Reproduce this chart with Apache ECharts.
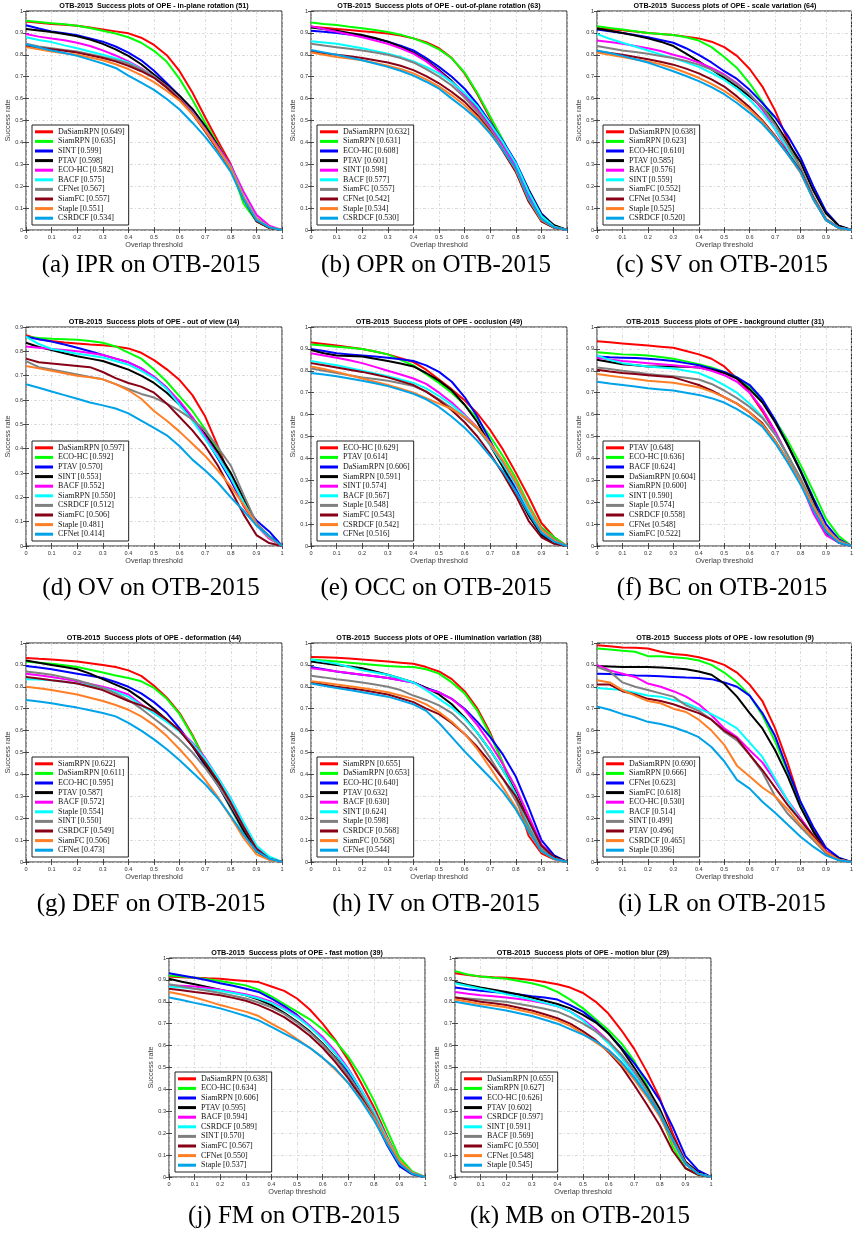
<!DOCTYPE html>
<html><head><meta charset="utf-8">
<script src="https://cdn.jsdelivr.net/npm/echarts@6.0.0/dist/echarts.min.js"></script>
<style>html,body{margin:0;padding:0;background:#fff}#c{width:856px;height:1235px}</style>
</head><body><div id="c"></div><script>
// ---------- DATA ----------
const THRESHOLDS = [0,0.05,0.1,0.15,0.2,0.25,0.3,0.35,0.4,0.45,0.5,0.55,0.6,0.65,0.7,0.75,0.8,0.85,0.9,0.95,1];

// (a) IPR
const IPR_TRACKERS = ['DaSiamRPN','SiamRPN','SINT','PTAV','ECO-HC','BACF','CFNet','SiamFC','Staple','CSRDCF'];
const IPR_SCORES = [0.649,0.635,0.599,0.598,0.582,0.575,0.567,0.557,0.551,0.534];
const IPR_RATES = [
 [.952,.946,.941,.937,.933,.925,.916,.907,.898,.878,.845,.798,.725,.628,.515,.405,.300,.150,.055,.013,0],
 [.956,.950,.944,.939,.933,.922,.910,.897,.880,.855,.818,.768,.690,.595,.490,.390,.285,.120,.040,.010,0],
 [.935,.920,.907,.898,.889,.875,.860,.838,.810,.775,.727,.670,.612,.550,.470,.380,.285,.150,.050,.012,0],
 [.918,.911,.904,.895,.885,.870,.850,.825,.795,.757,.710,.662,.612,.553,.475,.385,.290,.150,.042,.010,0],
 [.895,.883,.874,.866,.855,.840,.820,.797,.770,.738,.700,.655,.600,.540,.462,.380,.295,.175,.070,.020,0],
 [.880,.868,.858,.843,.830,.815,.800,.784,.765,.735,.700,.650,.595,.535,.457,.370,.287,.155,.052,.013,0],
 [.850,.838,.830,.822,.815,.803,.790,.776,.760,.733,.700,.655,.600,.535,.455,.370,.283,.150,.045,.012,0],
 [.840,.832,.825,.818,.810,.798,.785,.770,.750,.725,.695,.650,.595,.530,.450,.365,.275,.140,.040,.010,0],
 [.835,.825,.815,.807,.800,.788,.775,.757,.735,.707,.675,.635,.590,.530,.455,.370,.280,.150,.050,.013,0],
 [.848,.833,.820,.808,.795,.778,.760,.740,.705,.673,.640,.598,.550,.490,.425,.350,.265,.140,.045,.012,0]
];
// (b) OPR
const OPR_TRACKERS = ['DaSiamRPN','SiamRPN','ECO-HC','PTAV','SINT','BACF','SiamFC','CFNet','Staple','CSRDCF'];
const OPR_SCORES = [0.632,0.631,0.608,0.601,0.598,0.577,0.557,0.542,0.534,0.530];
const OPR_RATES = [
 [.928,.923,.918,.913,.908,.903,.897,.888,.875,.858,.830,.785,.715,.620,.510,.400,.290,.155,.050,.012,0],
 [.947,.941,.936,.928,.921,.913,.904,.892,.875,.853,.825,.784,.719,.625,.518,.410,.295,.160,.055,.012,0],
 [.910,.905,.900,.893,.885,.874,.860,.842,.820,.785,.745,.700,.645,.575,.490,.405,.310,.185,.075,.020,0],
 [.925,.918,.910,.900,.890,.877,.860,.837,.810,.775,.730,.680,.620,.555,.475,.390,.300,.180,.070,.022,0],
 [.930,.918,.905,.893,.880,.865,.850,.830,.805,.770,.725,.675,.615,.550,.470,.385,.290,.160,.050,.013,0],
 [.862,.856,.850,.840,.830,.818,.805,.790,.770,.745,.715,.675,.625,.565,.485,.400,.305,.175,.065,.015,0],
 [.850,.842,.835,.828,.820,.810,.800,.785,.765,.735,.700,.660,.605,.540,.460,.370,.270,.140,.040,.010,0],
 [.815,.807,.800,.793,.785,.775,.765,.750,.730,.703,.670,.630,.585,.525,.450,.360,.265,.130,.040,.010,0],
 [.810,.800,.790,.783,.775,.763,.750,.735,.715,.688,.655,.615,.570,.515,.445,.365,.275,.140,.045,.012,0],
 [.822,.811,.800,.788,.775,.760,.745,.727,.705,.677,.645,.600,.555,.505,.440,.365,.280,.145,.050,.012,0]
];
// (c) SV
const SV_TRACKERS = ['DaSiamRPN','SiamRPN','ECO-HC','PTAV','BACF','SINT','SiamFC','CFNet','Staple','CSRDCF'];
const SV_SCORES = [0.638,0.623,0.610,0.585,0.576,0.559,0.552,0.534,0.525,0.520];
const SV_RATES = [
 [.922,.917,.912,.906,.900,.895,.890,.883,.875,.860,.835,.795,.735,.655,.545,.410,.280,.140,.045,.010,0],
 [.930,.922,.915,.908,.900,.895,.890,.880,.865,.835,.790,.740,.670,.585,.490,.390,.280,.150,.050,.012,0],
 [.915,.908,.900,.890,.880,.868,.855,.830,.800,.765,.725,.690,.640,.580,.515,.430,.330,.200,.085,.020,0],
 [.920,.910,.900,.888,.875,.860,.840,.805,.770,.733,.695,.655,.610,.560,.490,.400,.310,.180,.075,.020,0],
 [.865,.858,.850,.840,.830,.817,.800,.785,.765,.740,.710,.670,.620,.550,.460,.360,.265,.150,.050,.012,0],
 [.895,.873,.855,.838,.820,.802,.785,.766,.745,.717,.685,.645,.595,.535,.460,.370,.270,.145,.045,.010,0],
 [.840,.830,.820,.813,.805,.795,.785,.772,.755,.732,.705,.665,.620,.560,.480,.385,.285,.155,.050,.012,0],
 [.815,.808,.800,.790,.780,.768,.755,.737,.715,.688,.655,.610,.560,.500,.430,.350,.270,.145,.045,.010,0],
 [.810,.800,.790,.780,.770,.757,.740,.718,.695,.667,.635,.595,.550,.495,.425,.345,.260,.140,.045,.010,0],
 [.820,.808,.795,.780,.765,.745,.725,.703,.680,.652,.620,.580,.535,.485,.420,.345,.265,.140,.045,.010,0]
];
// (d) OV
const OV_TRACKERS = ['DaSiamRPN','ECO-HC','PTAV','SINT','BACF','SiamRPN','CSRDCF','SiamFC','Staple','CFNet'];
const OV_SCORES = [0.597,0.592,0.570,0.553,0.552,0.550,0.512,0.506,0.481,0.414];
const OV_RATES = [
 [.866,.850,.842,.836,.832,.828,.825,.820,.812,.794,.764,.726,.682,.620,.532,.409,.273,.164,.089,.034,0],
 [.860,.855,.852,.850,.848,.842,.835,.820,.795,.770,.725,.675,.615,.555,.480,.390,.285,.185,.090,.040,0],
 [.860,.850,.840,.828,.815,.800,.785,.770,.755,.730,.695,.650,.590,.525,.445,.360,.270,.170,.105,.060,0],
 [.835,.818,.805,.792,.780,.770,.760,.743,.725,.700,.670,.630,.580,.525,.460,.385,.300,.195,.090,.040,0],
 [.820,.815,.810,.805,.800,.793,.785,.770,.755,.730,.695,.650,.595,.530,.450,.370,.280,.170,.085,.030,0],
 [.860,.830,.810,.800,.790,.783,.775,.760,.745,.720,.690,.645,.580,.515,.440,.365,.280,.180,.085,.035,0],
 [.760,.735,.725,.715,.705,.695,.685,.665,.645,.625,.610,.585,.555,.520,.475,.405,.330,.210,.095,.040,0],
 [.770,.755,.750,.745,.740,.735,.715,.690,.670,.655,.630,.585,.530,.475,.410,.330,.230,.130,.045,.012,0],
 [.740,.730,.720,.710,.700,.693,.685,.665,.640,.605,.555,.515,.470,.420,.370,.310,.245,.170,.090,.035,0],
 [.665,.650,.635,.620,.605,.590,.578,.565,.545,.515,.485,.455,.410,.355,.310,.260,.200,.145,.085,.040,0]
];
// (e) OCC
const OCC_TRACKERS = ['ECO-HC','PTAV','DaSiamRPN','SiamRPN','SINT','BACF','Staple','SiamFC','CSRDCF','CFNet'];
const OCC_SCORES = [0.629,0.614,0.606,0.591,0.574,0.567,0.548,0.543,0.542,0.516];
const OCC_RATES = [
 [.929,.922,.915,.908,.900,.888,.875,.858,.840,.805,.760,.715,.665,.605,.530,.440,.335,.225,.105,.040,0],
 [.920,.915,.910,.905,.900,.888,.875,.850,.825,.785,.745,.700,.645,.580,.500,.410,.310,.190,.085,.040,0],
 [.900,.890,.880,.875,.870,.865,.860,.853,.845,.825,.795,.750,.680,.590,.480,.370,.260,.150,.055,.015,0],
 [.895,.880,.870,.868,.865,.855,.845,.833,.820,.790,.755,.710,.645,.565,.460,.360,.250,.140,.050,.012,0],
 [.880,.870,.860,.848,.835,.818,.800,.783,.765,.740,.700,.655,.600,.540,.460,.380,.280,.170,.070,.020,0],
 [.845,.835,.825,.813,.800,.788,.775,.760,.745,.720,.685,.645,.595,.535,.460,.375,.280,.165,.070,.020,0],
 [.810,.800,.790,.780,.770,.763,.755,.743,.730,.705,.670,.630,.585,.535,.465,.385,.290,.180,.080,.030,0],
 [.835,.825,.815,.805,.795,.783,.770,.753,.735,.705,.665,.620,.565,.500,.420,.330,.230,.115,.040,.010,0],
 [.820,.808,.795,.780,.765,.750,.735,.718,.700,.675,.650,.625,.590,.540,.470,.390,.295,.180,.075,.025,0],
 [.790,.783,.775,.765,.755,.743,.730,.713,.695,.670,.635,.590,.540,.480,.410,.340,.250,.150,.060,.020,0]
];
// (f) BC
const BC_TRACKERS = ['PTAV','ECO-HC','BACF','DaSiamRPN','SiamRPN','SINT','Staple','CSRDCF','CFNet','SiamFC'];
const BC_SCORES = [0.648,0.636,0.624,0.604,0.600,0.590,0.574,0.558,0.548,0.522];
const BC_RATES = [
 [.935,.930,.925,.920,.915,.910,.905,.890,.875,.855,.820,.765,.700,.615,.520,.410,.300,.180,.080,.030,0],
 [.885,.880,.875,.873,.870,.863,.855,.843,.830,.815,.795,.770,.725,.660,.575,.480,.370,.250,.125,.045,0],
 [.865,.862,.860,.858,.855,.850,.845,.835,.825,.810,.795,.770,.735,.670,.575,.460,.345,.220,.100,.030,0],
 [.850,.840,.830,.825,.820,.820,.820,.818,.815,.805,.790,.765,.715,.655,.565,.460,.340,.210,.060,.020,0],
 [.860,.852,.845,.840,.835,.830,.825,.820,.815,.800,.780,.750,.700,.625,.525,.410,.290,.150,.050,.015,0],
 [.870,.850,.835,.827,.820,.815,.810,.800,.790,.765,.735,.700,.650,.590,.510,.410,.300,.185,.075,.020,0],
 [.815,.808,.800,.793,.785,.780,.775,.768,.760,.740,.710,.675,.635,.585,.510,.415,.310,.190,.080,.025,0],
 [.805,.797,.790,.785,.780,.775,.770,.753,.735,.710,.680,.650,.610,.560,.480,.390,.290,.170,.065,.015,0],
 [.785,.777,.770,.763,.755,.750,.745,.735,.725,.705,.680,.650,.610,.555,.480,.390,.290,.180,.080,.020,0],
 [.750,.742,.735,.728,.720,.715,.710,.700,.690,.675,.655,.625,.590,.545,.470,.380,.280,.165,.065,.015,0]
];
// (g) DEF
const DEF_TRACKERS = ['SiamRPN','DaSiamRPN','ECO-HC','PTAV','BACF','Staple','SINT','CSRDCF','SiamFC','CFNet'];
const DEF_SCORES = [0.622,0.611,0.595,0.587,0.572,0.554,0.550,0.549,0.506,0.473];
const DEF_RATES = [
 [.932,.928,.925,.920,.915,.908,.900,.890,.875,.850,.805,.750,.680,.580,.465,.355,.245,.140,.050,.015,0],
 [.915,.910,.905,.898,.890,.878,.865,.852,.840,.825,.795,.745,.675,.575,.465,.355,.245,.140,.050,.015,0],
 [.895,.888,.880,.870,.860,.850,.840,.822,.800,.770,.730,.680,.610,.530,.440,.350,.250,.145,.055,.015,0],
 [.920,.910,.900,.890,.880,.860,.835,.810,.785,.745,.700,.650,.600,.530,.445,.355,.255,.145,.050,.012,0],
 [.860,.853,.845,.835,.825,.813,.800,.785,.765,.720,.680,.645,.600,.545,.475,.385,.290,.175,.070,.020,0],
 [.835,.833,.830,.823,.815,.805,.795,.777,.755,.715,.680,.640,.595,.540,.470,.385,.290,.180,.075,.025,0],
 [.870,.863,.855,.843,.830,.813,.795,.770,.740,.700,.655,.610,.560,.500,.430,.350,.260,.160,.060,.015,0],
 [.845,.838,.830,.823,.815,.800,.785,.760,.735,.715,.690,.650,.600,.530,.455,.370,.270,.160,.060,.015,0],
 [.800,.793,.785,.775,.765,.750,.735,.717,.695,.665,.625,.575,.515,.450,.375,.295,.205,.110,.035,.010,0],
 [.740,.733,.725,.715,.705,.693,.680,.665,.635,.600,.560,.515,.465,.410,.355,.290,.210,.125,.050,.015,0]
];
// (h) IV
const IV_TRACKERS = ['SiamRPN','DaSiamRPN','ECO-HC','PTAV','BACF','SINT','Staple','CSRDCF','SiamFC','CFNet'];
const IV_SCORES = [0.655,0.653,0.640,0.632,0.630,0.624,0.598,0.568,0.568,0.544];
const IV_RATES = [
 [.936,.935,.933,.929,.925,.920,.915,.910,.905,.890,.870,.835,.780,.700,.590,.450,.300,.120,.040,.012,0],
 [.925,.920,.915,.910,.905,.900,.895,.892,.890,.880,.860,.820,.770,.690,.580,.450,.310,.150,.050,.015,0],
 [.890,.880,.870,.862,.855,.848,.840,.830,.820,.795,.775,.745,.700,.640,.570,.490,.390,.250,.100,.030,0],
 [.915,.907,.900,.893,.885,.870,.855,.838,.820,.795,.765,.720,.660,.590,.510,.420,.320,.190,.075,.025,0],
 [.885,.878,.870,.863,.855,.848,.840,.830,.820,.790,.775,.745,.695,.625,.540,.445,.340,.210,.080,.020,0],
 [.925,.915,.905,.890,.875,.865,.855,.838,.820,.785,.745,.705,.655,.590,.510,.420,.310,.170,.060,.015,0],
 [.850,.843,.835,.828,.820,.810,.800,.785,.760,.740,.715,.680,.625,.560,.475,.380,.280,.160,.060,.015,0],
 [.820,.810,.800,.793,.785,.775,.765,.748,.730,.700,.675,.635,.585,.525,.455,.380,.300,.190,.075,.020,0],
 [.825,.818,.810,.803,.795,.785,.775,.760,.745,.720,.685,.640,.585,.515,.430,.340,.250,.140,.050,.015,0],
 [.815,.805,.795,.785,.775,.765,.755,.738,.720,.690,.635,.570,.505,.445,.385,.320,.240,.140,.050,.015,0]
];
// (i) LR
const LR_TRACKERS = ['DaSiamRPN','SiamRPN','CFNet','SiamFC','ECO-HC','BACF','SINT','PTAV','CSRDCF','Staple'];
const LR_SCORES = [0.690,0.666,0.623,0.618,0.530,0.514,0.499,0.496,0.465,0.396];
const LR_RATES = [
 [.990,.985,.980,.978,.975,.960,.950,.945,.935,.920,.900,.865,.810,.735,.610,.450,.270,.150,.050,.010,0],
 [.975,.970,.965,.960,.940,.940,.935,.930,.920,.900,.865,.820,.760,.670,.550,.410,.260,.140,.040,.010,0],
 [.860,.858,.855,.852,.850,.848,.845,.842,.840,.835,.820,.800,.760,.680,.575,.420,.275,.160,.065,.020,0],
 [.895,.893,.890,.890,.890,.888,.885,.880,.870,.855,.815,.755,.680,.610,.510,.390,.250,.140,.050,.015,0],
 [.900,.875,.860,.845,.815,.800,.780,.755,.720,.670,.610,.570,.510,.455,.370,.280,.200,.120,.050,.010,0],
 [.795,.790,.785,.773,.760,.755,.740,.725,.700,.675,.645,.610,.545,.480,.380,.280,.190,.110,.045,.010,0],
 [.890,.870,.820,.800,.785,.770,.755,.715,.690,.650,.595,.555,.490,.410,.300,.220,.160,.100,.040,.010,0],
 [.810,.810,.780,.765,.745,.735,.720,.700,.680,.650,.600,.565,.490,.420,.340,.260,.190,.120,.045,.010,0],
 [.830,.820,.785,.760,.735,.725,.700,.685,.650,.600,.535,.440,.390,.340,.300,.240,.170,.110,.045,.010,0],
 [.710,.695,.675,.660,.640,.630,.615,.595,.570,.525,.460,.375,.335,.275,.225,.170,.115,.070,.030,.008,0]
];
// (j) FM
const FM_TRACKERS = ['DaSiamRPN','ECO-HC','SiamRPN','PTAV','BACF','CSRDCF','SINT','SiamFC','CFNet','Staple'];
const FM_SCORES = [0.638,0.634,0.606,0.595,0.594,0.589,0.570,0.567,0.550,0.537];
const FM_RATES = [
 [.915,.912,.910,.907,.905,.900,.895,.890,.870,.850,.815,.765,.700,.625,.535,.430,.320,.190,.070,.020,0],
 [.920,.915,.910,.903,.895,.885,.875,.855,.825,.790,.755,.720,.675,.620,.550,.460,.350,.220,.090,.025,0],
 [.930,.920,.910,.898,.885,.873,.860,.845,.815,.780,.740,.690,.635,.565,.480,.380,.270,.150,.050,.012,0],
 [.905,.892,.880,.868,.855,.843,.830,.810,.785,.750,.710,.665,.610,.545,.465,.375,.280,.160,.060,.015,0],
 [.875,.873,.870,.863,.855,.845,.835,.820,.800,.770,.735,.690,.640,.575,.495,.400,.300,.180,.070,.020,0],
 [.870,.865,.860,.855,.850,.840,.830,.815,.795,.765,.730,.685,.630,.565,.490,.400,.300,.180,.070,.020,0],
 [.880,.870,.860,.850,.840,.828,.815,.797,.775,.745,.705,.660,.605,.540,.465,.380,.285,.170,.065,.015,0],
 [.860,.853,.845,.838,.830,.818,.805,.785,.760,.730,.690,.645,.590,.525,.450,.365,.270,.160,.060,.015,0],
 [.845,.833,.820,.803,.785,.770,.755,.735,.700,.670,.630,.590,.545,.490,.430,.355,.270,.170,.075,.020,0],
 [.820,.808,.795,.783,.770,.753,.735,.715,.685,.655,.625,.590,.545,.495,.430,.350,.260,.155,.060,.015,0]
];
// (k) MB
const MB_TRACKERS = ['DaSiamRPN','SiamRPN','ECO-HC','PTAV','CSRDCF','SINT','BACF','SiamFC','CFNet','Staple'];
const MB_SCORES = [0.655,0.627,0.626,0.602,0.597,0.591,0.569,0.550,0.548,0.545];
const MB_RATES = [
 [.930,.922,.915,.912,.910,.905,.900,.890,.880,.865,.840,.800,.745,.670,.585,.480,.360,.200,.070,.020,0],
 [.940,.925,.915,.910,.905,.895,.885,.870,.845,.810,.770,.720,.670,.610,.530,.420,.290,.140,.040,.010,0],
 [.865,.857,.850,.845,.840,.833,.825,.820,.810,.785,.755,.710,.655,.590,.520,.440,.350,.230,.095,.030,0],
 [.890,.877,.865,.855,.845,.833,.820,.805,.790,.770,.740,.705,.655,.585,.500,.410,.310,.180,.070,.020,0],
 [.845,.837,.830,.825,.820,.813,.805,.793,.780,.755,.720,.675,.620,.550,.470,.380,.280,.165,.060,.015,0],
 [.885,.872,.860,.848,.835,.823,.810,.795,.780,.755,.715,.665,.610,.545,.465,.380,.285,.170,.060,.015,0],
 [.820,.815,.810,.805,.800,.790,.780,.768,.755,.730,.700,.665,.620,.560,.485,.395,.295,.175,.065,.015,0],
 [.820,.810,.800,.793,.785,.773,.760,.743,.725,.700,.665,.625,.570,.505,.420,.330,.235,.120,.040,.010,0],
 [.810,.800,.790,.783,.775,.763,.750,.733,.715,.690,.655,.615,.575,.515,.445,.365,.275,.160,.060,.015,0],
 [.800,.790,.780,.770,.760,.748,.735,.718,.700,.675,.650,.620,.580,.525,.455,.375,.285,.170,.060,.015,0]
];

const TITLES = ['in-plane rotation (51)','out-of-plane rotation (63)','scale variation (64)','out of view (14)','occlusion (49)','background clutter (31)','deformation (44)','illumination variation (38)','low resolution (9)','fast motion (39)','motion blur (29)'];
const CAPTIONS = ['(a) IPR on OTB-2015','(b) OPR on OTB-2015','(c) SV on OTB-2015','(d) OV on OTB-2015','(e) OCC on OTB-2015','(f) BC on OTB-2015','(g) DEF on OTB-2015','(h) IV on OTB-2015','(i) LR on OTB-2015','(j) FM on OTB-2015','(k) MB on OTB-2015'];
const Y_MAX = [1,1,1,0.9,1,1,1,1,1,1,1];
const TRACKERS = [IPR_TRACKERS,OPR_TRACKERS,SV_TRACKERS,OV_TRACKERS,OCC_TRACKERS,BC_TRACKERS,DEF_TRACKERS,IV_TRACKERS,LR_TRACKERS,FM_TRACKERS,MB_TRACKERS];
const SCORES = [IPR_SCORES,OPR_SCORES,SV_SCORES,OV_SCORES,OCC_SCORES,BC_SCORES,DEF_SCORES,IV_SCORES,LR_SCORES,FM_SCORES,MB_SCORES];
const RATES = [IPR_RATES,OPR_RATES,SV_RATES,OV_RATES,OCC_RATES,BC_RATES,DEF_RATES,IV_RATES,LR_RATES,FM_RATES,MB_RATES];

// ---------- STYLE / LAYOUT ----------
const COLORS = ['#ff0000','#00ff00','#0000ff','#000000','#ff00ff','#00ffff','#808080','#880015','#ff7f27','#00a2e8'];
const W = 256, H = 219;
const POS = [[26,11],[311,11],[597,11],[26,327],[311,327],[597,327],[26,643],[311,643],[597,643],[169,958],[455,958]];
const CAP_Y = [265,265,265,588,588,588,904,904,904,1216,1216];
const SANS = 'Liberation Sans, Arial, Helvetica, sans-serif';
const SERIF = 'Liberation Serif, Times New Roman, serif';

const grid = [], xAxis = [], yAxis = [], series = [], legend = [], graphic = [];
const LABELS = {};
POS.forEach((p, k) => {
  const [L, T] = p;
  grid.push({left: L, top: T, width: W, height: H, show: true, borderColor: '#222', borderWidth: 1, backgroundColor: '#fff', containLabel: false});
  const tick = {show: true, inside: true, length: 3, lineStyle: {color: '#222', width: 0.8}};
  const split = {show: true, lineStyle: {color: '#cdcdcd', width: 0.7, type: [3, 2, 1, 2]}};
  const lbl = {fontSize: 5.6, color: '#333', fontFamily: SANS, showMinLabel: true, showMaxLabel: true};
  xAxis.push({gridIndex: k, type: 'value', min: 0, max: 1, interval: 0.1, position: 'bottom',
    axisLine: {show: false}, axisTick: tick, splitLine: split,
    axisLabel: Object.assign({margin: 4}, lbl),
    name: 'Overlap threshold', nameLocation: 'middle', nameGap: 11,
    nameTextStyle: {fontSize: 7.3, color: '#404040', fontFamily: SANS}});
  xAxis.push({gridIndex: k, type: 'value', min: 0, max: 1, interval: 0.1, position: 'top',
    axisLine: {show: false}, axisTick: tick, splitLine: {show: false}, axisLabel: {show: false}});
  yAxis.push({gridIndex: k, type: 'value', min: 0, max: Y_MAX[k], interval: 0.1, position: 'left',
    axisLine: {show: false}, axisTick: tick, splitLine: split,
    axisLabel: Object.assign({margin: 3}, lbl),
    name: 'Success rate', nameLocation: 'middle', nameGap: 12,
    nameTextStyle: {fontSize: 7.3, color: '#404040', fontFamily: SANS}});
  yAxis.push({gridIndex: k, type: 'value', min: 0, max: Y_MAX[k], interval: 0.1, position: 'right',
    axisLine: {show: false}, axisTick: tick, splitLine: {show: false}, axisLabel: {show: false}});
  const names = [];
  TRACKERS[k].forEach((tr, i) => {
    const nm = 'p' + k + '_' + i;
    names.push(nm);
    LABELS[nm] = tr + ' [' + SCORES[k][i].toFixed(3) + ']';
    series.push({name: nm, type: 'line', xAxisIndex: 2 * k, yAxisIndex: 2 * k,
      data: THRESHOLDS.map((t, j) => [t, RATES[k][i][j]]),
      showSymbol: false, symbol: 'none', smooth: false, color: COLORS[i],
      lineStyle: {color: COLORS[i], width: 2}, emphasis: {disabled: true}, silent: true});
  });
  legend.push({data: names.map(n => ({name: n, icon: 'rect'})), orient: 'vertical',
    left: L + 6, bottom: 1235 - (T + H - 5),
    itemWidth: 18, itemHeight: 3, itemGap: 0, padding: [2, 4, 2, 3],
    borderColor: '#222', borderWidth: 1, backgroundColor: '#fff', selectedMode: false,
    formatter: n => LABELS[n],
    textStyle: {fontFamily: SERIF, fontSize: 8, color: '#111', lineHeight: 9.6}});
  graphic.push({type: 'text', left: null, x: L + W / 2, y: T - 5, silent: true,
    style: {text: 'OTB-2015  Success plots of OPE - ' + TITLES[k], font: 'bold 7.2px ' + SANS,
      fill: '#000', align: 'center', verticalAlign: 'middle'}});
  graphic.push({type: 'text', x: L + W / 2 - 3, y: CAP_Y[k], silent: true,
    style: {text: CAPTIONS[k], font: '25px ' + SERIF, fill: '#000', align: 'center', verticalAlign: 'middle'}});
});

const chart = echarts.init(document.getElementById('c'), null, {renderer: 'canvas'});
chart.setOption({animation: false, backgroundColor: '#fff', grid, xAxis, yAxis, series, legend, graphic, tooltip: {show: false}});
</script></body></html>
